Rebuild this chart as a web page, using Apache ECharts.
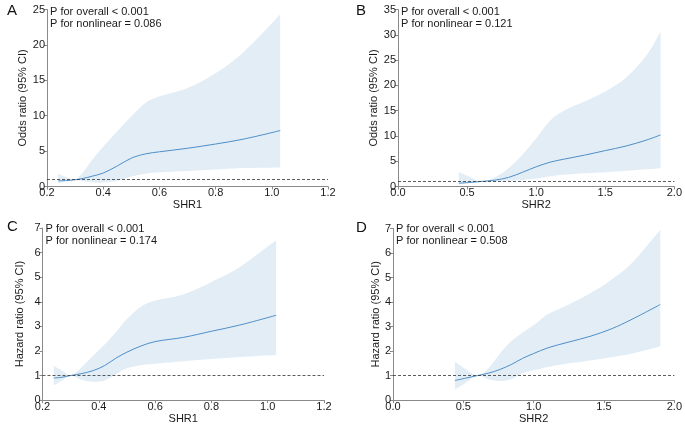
<!DOCTYPE html>
<html>
<head>
<meta charset="utf-8">
<script src="https://cdn.jsdelivr.net/npm/echarts@6/dist/echarts.min.js"></script>
<style>html,body{margin:0;padding:0;background:#fff;}#c{width:685px;height:425px;}</style>
</head>
<body>
<div id="c"></div>
<script>
// Panel A: SHR1 vs odds ratio
var aX   = [0.24, 0.27, 0.30, 0.33, 0.36, 0.40, 0.45, 0.50, 0.55, 0.60, 0.70, 0.80, 0.90, 1.03];
var aEst = [0.80, 0.85, 0.95, 1.15, 1.45, 1.90, 2.90, 4.00, 4.60, 4.90, 5.40, 6.00, 6.70, 7.90];
var aUp  = [1.80, 1.30, 1.00, 2.10, 3.70, 5.60, 7.80, 9.90, 11.8, 12.7, 13.9, 16.0, 19.0, 24.3];
var aLow = [0.45, 0.70, 0.95, 0.75, 0.60, 0.55, 0.80, 1.40, 1.80, 2.00, 2.20, 2.40, 2.60, 2.70];
// Panel B: SHR2 vs odds ratio
var bX   = [0.44, 0.52, 0.60, 0.70, 0.80, 0.90, 1.00, 1.10, 1.20, 1.35, 1.50, 1.65, 1.80, 1.90];
var bEst = [0.66, 0.80, 1.00, 1.25, 1.80, 2.80, 3.90, 4.80, 5.40, 6.20, 7.10, 8.00, 9.20, 10.2];
var bUp  = [2.80, 1.90, 1.00, 1.80, 3.60, 6.30, 9.50, 13.0, 15.0, 16.8, 18.8, 21.5, 26.0, 30.6];
var bLow = [0.45, 0.70, 1.00, 0.95, 1.10, 1.30, 1.60, 2.00, 2.30, 2.60, 2.80, 3.10, 3.40, 3.60];
// Panel C: SHR1 vs hazard ratio
var cX   = [0.24, 0.27, 0.30, 0.34, 0.38, 0.42, 0.46, 0.50, 0.55, 0.60, 0.70, 0.80, 0.90, 1.03];
var cEst = [0.90, 0.93, 1.00, 1.08, 1.20, 1.40, 1.70, 1.95, 2.20, 2.38, 2.55, 2.80, 3.05, 3.45];
var cUp  = [1.40, 1.20, 1.00, 1.35, 1.80, 2.25, 2.75, 3.30, 3.80, 4.05, 4.30, 4.80, 5.40, 6.50];
var cLow = [0.60, 0.80, 1.00, 0.82, 0.75, 0.80, 1.05, 1.30, 1.42, 1.48, 1.58, 1.67, 1.75, 1.83];
// Panel D: SHR2 vs hazard ratio
var dX   = [0.44, 0.52, 0.60, 0.68, 0.76, 0.84, 0.92, 1.00, 1.10, 1.25, 1.40, 1.55, 1.70, 1.90];
var dEst = [0.80, 0.90, 1.00, 1.10, 1.25, 1.45, 1.70, 1.90, 2.13, 2.37, 2.60, 2.90, 3.30, 3.90];
var dUp  = [1.56, 1.25, 1.00, 1.30, 1.90, 2.40, 2.75, 3.05, 3.50, 3.90, 4.35, 4.90, 5.60, 6.95];
var dLow = [0.43, 0.72, 1.00, 0.85, 0.78, 0.85, 1.10, 1.22, 1.35, 1.50, 1.62, 1.75, 1.90, 2.20];

var panelLetters = ['A', 'B', 'C', 'D'];
var pTexts = [
  ['P for overall < 0.001', 'P for nonlinear = 0.086'],
  ['P for overall < 0.001', 'P for nonlinear = 0.121'],
  ['P for overall < 0.001', 'P for nonlinear = 0.174'],
  ['P for overall < 0.001', 'P for nonlinear = 0.508']
];
var xNames = ['SHR1', 'SHR2', 'SHR1', 'SHR2'];
var yNames = ['Odds ratio (95% CI)', 'Odds ratio (95% CI)', 'Hazard ratio (95% CI)', 'Hazard ratio (95% CI)'];

var panels = [
  {x: aX, est: aEst, up: aUp, low: aLow, xmin: 0.2, xmax: 1.2, xint: 0.2, ymax: 25, yint: 5},
  {x: bX, est: bEst, up: bUp, low: bLow, xmin: 0.0, xmax: 2.0, xint: 0.5, ymax: 35, yint: 5},
  {x: cX, est: cEst, up: cUp, low: cLow, xmin: 0.2, xmax: 1.2, xint: 0.2, ymax: 7, yint: 1},
  {x: dX, est: dEst, up: dUp, low: dLow, xmin: 0.0, xmax: 2.0, xint: 0.5, ymax: 7, yint: 1}
];

var grids = [
  {left: 47, top: 9.5, width: 281, height: 177},
  {left: 398, top: 9.5, width: 279.5, height: 177},
  {left: 42.5, top: 228, width: 281.5, height: 175.5},
  {left: 393, top: 228.5, width: 284, height: 175.5}
];
var letterPos = [[7, 3], [356, 3], [7, 219], [356, 220]];
var pTextPos = [[50, 6.5], [401, 6.5], [45.5, 223.5], [396, 223.5]];
var yNameGaps = [15, 17, 17, 11];

var FONT = 'Liberation Sans, Arial, sans-serif';
var axisCol = '#8a8a8a';
var txtCol = '#1a1a1a';

// Catmull-Rom spline path through pixel points (append to path string)
function splineSegs(pts) {
  var s = '';
  for (var i = 0; i < pts.length - 1; i++) {
    var p0 = pts[Math.max(i - 1, 0)], p1 = pts[i], p2 = pts[i + 1], p3 = pts[Math.min(i + 2, pts.length - 1)];
    var t = 1 / 6;
    var c1x = p1[0] + (p2[0] - p0[0]) * t, c1y = p1[1] + (p2[1] - p0[1]) * t;
    var c2x = p2[0] - (p3[0] - p1[0]) * t, c2y = p2[1] - (p3[1] - p1[1]) * t;
    s += ' C' + c1x + ',' + c1y + ' ' + c2x + ',' + c2y + ' ' + p2[0] + ',' + p2[1];
  }
  return s;
}

function bandRenderer(p) {
  return function (params, api) {
    var up = p.x.map(function (x, k) { return api.coord([x, p.up[k]]); });
    var low = p.x.map(function (x, k) { return api.coord([x, p.low[k]]); }).reverse();
    var d = 'M' + up[0][0] + ',' + up[0][1] + splineSegs(up) +
      ' L' + low[0][0] + ',' + low[0][1] + splineSegs(low) + ' Z';
    return {
      type: 'path',
      shape: {pathData: d},
      style: {fill: '#e2edf6', stroke: null}
    };
  };
}

var option = {
  animation: false,
  backgroundColor: '#fff',
  textStyle: {fontFamily: FONT},
  title: [],
  grid: [],
  xAxis: [],
  yAxis: [],
  series: []
};

panels.forEach(function (p, i) {
  var g = grids[i];
  option.grid.push({left: g.left, top: g.top, width: g.width, height: g.height, containLabel: false});
  option.title.push({
    text: panelLetters[i], left: letterPos[i][0], top: letterPos[i][1], padding: 0,
    textStyle: {fontSize: 15, fontWeight: 'normal', color: '#111', fontFamily: FONT}
  });
  option.title.push({
    text: pTexts[i].join('\n'), left: pTextPos[i][0], top: pTextPos[i][1], padding: 0,
    textStyle: {fontSize: 11, fontWeight: 'normal', color: txtCol, lineHeight: 11.5, fontFamily: FONT}
  });
  option.xAxis.push({
    type: 'value', gridIndex: i, min: p.xmin, max: p.xmax, interval: p.xint,
    name: xNames[i], nameLocation: 'middle', nameGap: 12,
    nameTextStyle: {fontSize: 11, color: txtCol, fontFamily: FONT},
    axisLine: {show: true, lineStyle: {color: axisCol, width: 1}},
    axisTick: {show: true, length: 3, lineStyle: {color: axisCol}},
    axisLabel: {fontSize: 11, color: txtCol, margin: 1, fontFamily: FONT,
      formatter: function (v) { return v.toFixed(1); }},
    splitLine: {show: false}
  });
  option.yAxis.push({
    type: 'value', gridIndex: i, min: 0, max: p.ymax, interval: p.yint,
    name: yNames[i], nameLocation: 'middle', nameGap: yNameGaps[i], nameRotate: 90,
    nameTextStyle: {fontSize: 11, color: txtCol, fontFamily: FONT},
    axisLine: {show: true, lineStyle: {color: axisCol, width: 1}},
    axisTick: {show: true, length: 3, lineStyle: {color: axisCol}},
    axisLabel: {fontSize: 11, color: txtCol, margin: 2, fontFamily: FONT},
    splitLine: {show: false}
  });
  option.series.push({
    type: 'custom', xAxisIndex: i, yAxisIndex: i,
    data: [[p.x[0], p.est[0]]],
    renderItem: bandRenderer(p), silent: true, z: 1
  });
  option.series.push({
    type: 'line', xAxisIndex: i, yAxisIndex: i,
    data: p.x.map(function (x, k) { return [x, p.est[k]]; }),
    symbol: 'none', smooth: 0.35,
    lineStyle: {color: '#4f8fc8', width: 1}, z: 3,
    markLine: {
      silent: true, symbol: ['none', 'none'], label: {show: false},
      lineStyle: {color: '#333', type: [3, 2], width: 0.8},
      data: [{yAxis: 1}]
    }
  });
});

var chart = echarts.init(document.getElementById('c'), null, {renderer: 'canvas'});
chart.setOption(option);
</script>
</body>
</html>
